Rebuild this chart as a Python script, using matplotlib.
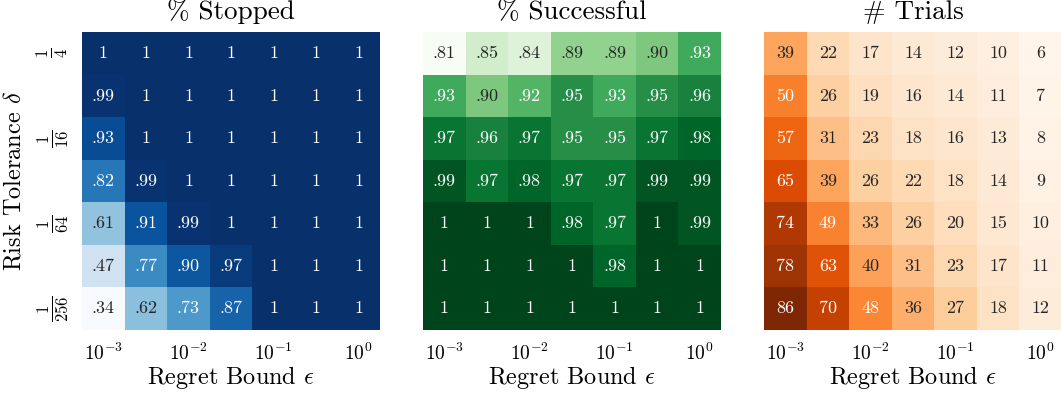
import numpy as np
import matplotlib
matplotlib.use("Agg")
import matplotlib.pyplot as plt
import seaborn as sns

# grid: rows are risk tolerance delta = 1/4 ... 1/256, columns are regret bound eps = 1e-3 ... 1e0
delta_labels = [r"$\frac{1}{4}$", "", r"$\frac{1}{16}$", "", r"$\frac{1}{64}$", "", r"$\frac{1}{256}$"]
eps_labels = [r"$10^{-3}$", "", r"$10^{-2}$", "", r"$10^{-1}$", "", r"$10^{0}$"]

pct_stopped = np.array([
    [1.00, 1.00, 1.00, 1.00, 1, 1, 1],
    [0.99, 1.00, 1.00, 1.00, 1, 1, 1],
    [0.93, 1.00, 1.00, 1.00, 1, 1, 1],
    [0.82, 0.99, 1.00, 1.00, 1, 1, 1],
    [0.61, 0.91, 0.99, 1.00, 1, 1, 1],
    [0.47, 0.77, 0.90, 0.97, 1, 1, 1],
    [0.34, 0.62, 0.73, 0.87, 1, 1, 1],
])

pct_successful = np.array([
    [0.81, 0.85, 0.84, 0.89, 0.89, 0.90, 0.93],
    [0.93, 0.90, 0.92, 0.95, 0.93, 0.95, 0.96],
    [0.97, 0.96, 0.97, 0.95, 0.95, 0.97, 0.98],
    [0.99, 0.97, 0.98, 0.97, 0.97, 0.99, 0.99],
    [1.00, 1.00, 1.00, 0.98, 0.97, 1.00, 0.99],
    [1.00, 1.00, 1.00, 1.00, 0.98, 1.00, 1.00],
    [1.00, 1.00, 1.00, 1.00, 1.00, 1.00, 1.00],
])

num_trials = np.array([
    [39, 22, 17, 14, 12, 10, 6],
    [50, 26, 19, 16, 14, 11, 7],
    [57, 31, 23, 18, 16, 13, 8],
    [65, 39, 26, 22, 18, 14, 9],
    [74, 49, 33, 26, 20, 15, 10],
    [78, 63, 40, 31, 23, 17, 11],
    [86, 70, 48, 36, 27, 18, 12],
])

plt.rcParams["font.family"] = "serif"
plt.rcParams["font.serif"] = ["cmr10"]
plt.rcParams["mathtext.fontset"] = "cm"
plt.rcParams["axes.formatter.use_mathtext"] = True


def frac_label(v):
    # ".93" style, and plain "1" for full fractions
    if round(v, 2) >= 1:
        return "1"
    return ("%.2f" % v)[1:]


fig = plt.figure(figsize=(10.61, 3.98), dpi=100)
left_edges = [82, 423, 764]
panels = [
    (pct_stopped, "Blues", r"% Stopped", np.vectorize(frac_label)(pct_stopped)),
    (pct_successful, "Greens", r"% Successful", np.vectorize(frac_label)(pct_successful)),
    (num_trials, "Oranges", r"# Trials", num_trials.astype(str)),
]

for i, (data, cmap, title, labels) in enumerate(panels):
    ax = fig.add_axes([left_edges[i] / 1061, 68 / 398, 298 / 1061, 298 / 398])
    sns.heatmap(data, ax=ax, cmap=cmap, annot=labels, fmt="", cbar=False,
                annot_kws={"fontsize": 13})
    ax.set_title(title, fontsize=19.5, pad=9)
    ax.set_xticks(np.arange(7) + 0.5)
    ax.set_xticklabels(eps_labels, fontsize=14, rotation=0)
    ax.set_xlabel(r"Regret Bound $\epsilon$", fontsize=17.5, labelpad=0)
    ax.tick_params(length=0, pad=9)
    if i == 0:
        ax.set_yticks(np.arange(7) + 0.5)
        ax.set_yticklabels(delta_labels, fontsize=17, rotation=90, va="center")
        ax.set_ylabel(r"Risk Tolerance $\delta$", fontsize=17.5, labelpad=6)
    else:
        ax.set_yticks([])

fig.savefig("out.png", dpi=100)
